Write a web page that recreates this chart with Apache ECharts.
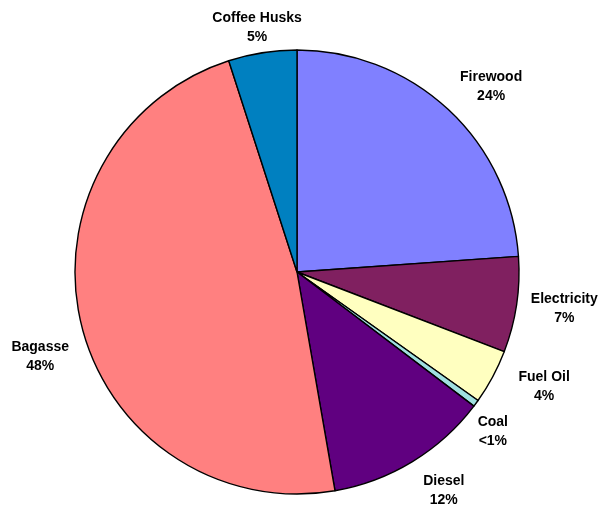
<!DOCTYPE html>
<html>
<head>
<meta charset="utf-8">
<script src="https://cdn.jsdelivr.net/npm/echarts@6/dist/echarts.min.js"></script>
<style>
  html, body { margin: 0; padding: 0; background: #ffffff; }
  #chart { width: 600px; height: 508px; }
</style>
</head>
<body>
<div id="chart"></div>
<script>
// Energy sources, clockwise from 12 o'clock
const categories = ['Firewood', 'Electricity', 'Fuel Oil', 'Coal', 'Diesel', 'Bagasse', 'Coffee Husks'];
const shares = [24, 7, 4, 0.5, 12, 48, 5];
const sliceColors = ['#8080FF', '#802060', '#FFFFC0', '#A0E0E0', '#600080', '#FF8080', '#0080C0'];

// Pie geometry
const CX = 297, CY = 272, R = 222, GAP = 8;
// Small hand adjustments to label placement [dx, dy]
const labelNudge = [[20, 1], [7, -2], [23, -6], [-3, 14], [17, 6], [-6, 23], [-1, 3]];

const total = shares.reduce((a, b) => a + b, 0);
const midAngles = [];
let acc = 0;
shares.forEach(v => {
  midAngles.push((acc + v / 2) / total * 2 * Math.PI);
  acc += v;
});

function pctText(v) {
  const p = v / total * 100;
  return p < 1 ? '<1%' : Math.round(p) + '%';
}

const chart = echarts.init(document.getElementById('chart'), null, { renderer: 'canvas' });
chart.setOption({
  backgroundColor: '#ffffff',
  animation: false,
  series: [{
    type: 'pie',
    center: [CX, CY],
    radius: R,
    startAngle: 90,
    clockwise: true,
    avoidLabelOverlap: false,
    data: categories.map((name, i) => ({
      name: name,
      value: shares[i],
      itemStyle: { color: sliceColors[i] }
    })),
    itemStyle: { borderColor: '#000000', borderWidth: 1.4 },
    emphasis: { disabled: true },
    label: {
      show: true,
      position: 'outside',
      formatter: p => p.name + '\n' + pctText(p.value),
      fontFamily: 'Liberation Sans, Arial, sans-serif',
      fontWeight: 'bold',
      fontSize: 14,
      lineHeight: 19,
      color: '#000000',
      align: 'center'
    },
    labelLine: { show: false },
    labelLayout: function (params) {
      const i = params.dataIndex;
      const a = midAngles[i];
      const dx = Math.sin(a), dy = -Math.cos(a);
      const hw = params.labelRect.width / 2, hh = params.labelRect.height / 2;
      const d = R + GAP + Math.sqrt((dx * hw) ** 2 + (dy * hh) ** 2);
      return {
        x: CX + dx * d + labelNudge[i][0],
        y: CY + dy * d + labelNudge[i][1],
        align: 'center',
        verticalAlign: 'middle'
      };
    }
  }]
});
</script>
</body>
</html>
